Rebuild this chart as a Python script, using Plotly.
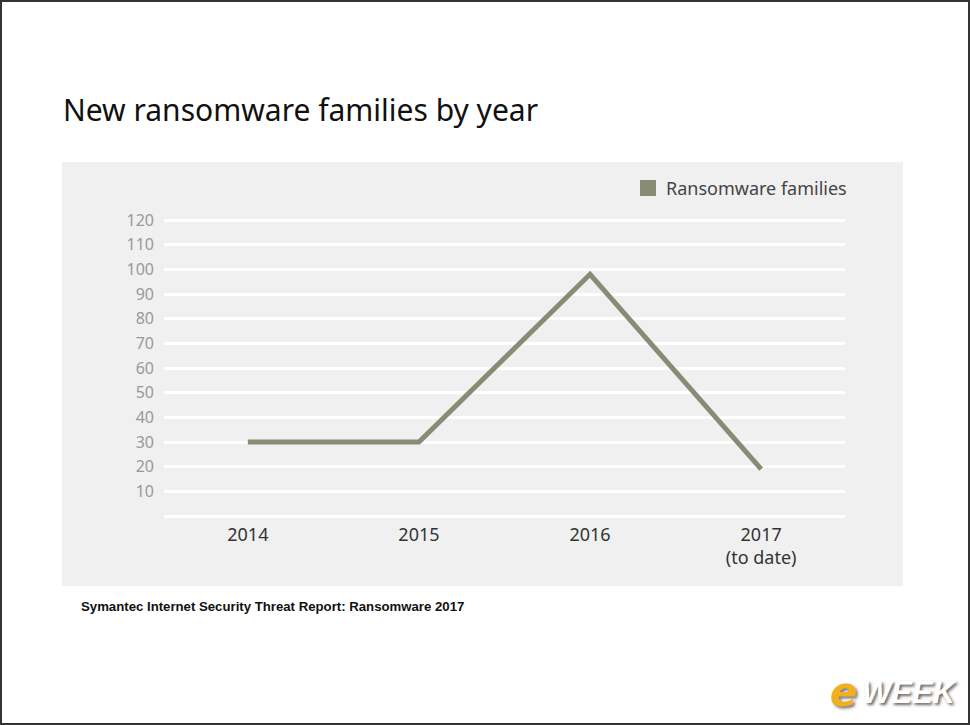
import plotly.graph_objects as go

years = ["2014", "2015", "2016", "2017<br>(to date)"]
families = [30, 30, 98, 19]
y_ticks = [0, 10, 20, 30, 40, 50, 60, 70, 80, 90, 100, 110, 120]
y_tick_labels = ["", "10", "20", "30", "40", "50", "60", "70", "80", "90", "100", "110", "120"]

W, H = 970, 725
L, R, T, B = 164, 845, 218, 518
pw, ph = R - L, B - T
PAD = 2 * 120 / 296.0  # 2px of padding in data units

def px(x):
    return (x - L) / pw

def py(y):
    return (B - y) / ph

xs = list(range(len(years)))
line_color = "#8a8b74"

fig = go.Figure()
fig.add_trace(go.Scatter(
    x=xs, y=families, mode="lines", name="Ransomware families",
    line=dict(color=line_color, width=5),
    showlegend=False, cliponaxis=False, hoverinfo="skip",
))

shapes = [
    dict(type="rect", xref="paper", yref="paper",
         x0=px(62), x1=px(903), y0=py(586), y1=py(162),
         fillcolor="#f0f0f0", line=dict(width=0), layer="below"),
    dict(type="rect", xref="paper", yref="paper",
         x0=px(640), x1=px(656), y0=py(196), y1=py(180),
         fillcolor=line_color, line=dict(width=0)),
    dict(type="rect", xref="paper", yref="paper",
         x0=px(1), x1=px(969), y0=py(724), y1=py(1),
         fillcolor="rgba(0,0,0,0)", line=dict(color="#333333", width=2), layer="above"),
]

annotations = [
    dict(text="Ransomware families", xref="paper", yref="paper",
         x=px(664), y=py(188), xanchor="left", yanchor="middle", showarrow=False,
         font=dict(family="Noto Sans", size=18, color="#444444")),
    dict(text="New ransomware families by year", xref="paper", yref="paper",
         x=px(61), y=py(110), xanchor="left", yanchor="middle", showarrow=False,
         font=dict(family="Noto Sans", size=30, color="#111111")),
    dict(text="<b>Symantec Internet Security Threat Report: Ransomware 2017</b>",
         xref="paper", yref="paper", x=px(79), y=py(606), xanchor="left", yanchor="middle",
         showarrow=False, font=dict(family="Liberation Sans", size=13.2, color="#111111")),
    dict(text="<b><i>WEEK</i></b>", xref="paper", yref="paper", x=px(860), y=py(692),
         xanchor="left", yanchor="middle", showarrow=False,
         font=dict(family="Liberation Sans", size=31, color="#ffffff",
                   shadow="2px 2px 3px #666")),
    dict(text="<b><i>e</i></b>", xref="paper", yref="paper", x=px(859), y=py(692),
         xanchor="right", yanchor="middle", showarrow=False,
         font=dict(family="DejaVu Sans", size=40, color="#f0b020", shadow="2px 2px 3px #777")),
]

fig.update_layout(
    width=W, height=H,
    margin=dict(l=L, r=W - R, t=T, b=H - B, pad=0),
    paper_bgcolor="white", plot_bgcolor="rgba(0,0,0,0)",
    shapes=shapes, annotations=annotations,
    showlegend=False,
    xaxis=dict(range=[-0.49, 3.49], tickvals=xs, ticktext=years, showgrid=False,
               zeroline=False, showline=False, ticks="", ticklabelstandoff=4,
               tickfont=dict(family="Noto Sans", size=18, color="#333333")),
    yaxis=dict(range=[-PAD, 120 + PAD], tickvals=y_ticks, ticktext=y_tick_labels,
               showgrid=True, gridcolor="#ffffff", gridwidth=2.5, zeroline=False,
               showline=False, ticks="", ticklabelstandoff=9,
               tickfont=dict(family="Noto Sans", size=16, color="#999999")),
)

fig.write_html("out.html")
